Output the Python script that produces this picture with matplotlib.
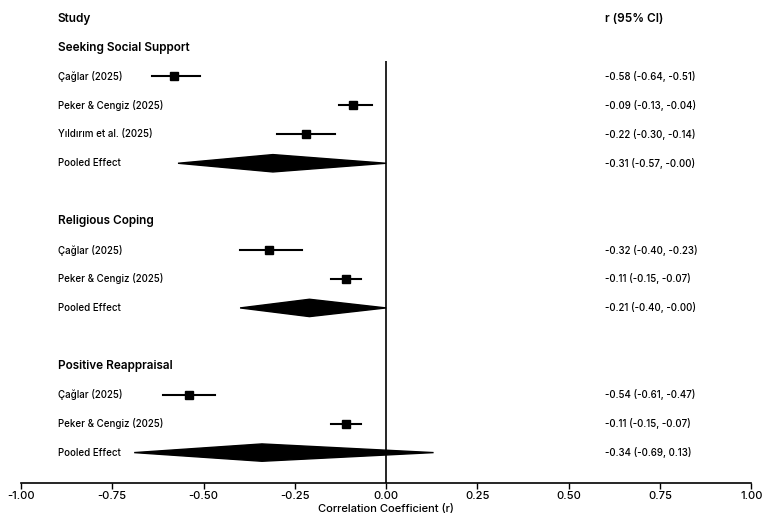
import matplotlib.pyplot as plt
from matplotlib.patches import Polygon

plt.rcParams['font.family'] = ['Inter', 'DejaVu Sans']

groups = ['Seeking Social Support', 'Religious Coping', 'Positive Reappraisal']
studies = [
    ['Çağlar (2025)', 'Peker & Cengiz (2025)', 'Yıldırım et al. (2025)'],
    ['Çağlar (2025)', 'Peker & Cengiz (2025)'],
    ['Çağlar (2025)', 'Peker & Cengiz (2025)'],
]
r_values = [[-0.58, -0.09, -0.22], [-0.32, -0.11], [-0.54, -0.11]]
ci_low = [[-0.64, -0.13, -0.30], [-0.40, -0.15], [-0.61, -0.15]]
ci_high = [[-0.51, -0.04, -0.14], [-0.23, -0.07], [-0.47, -0.07]]
pooled_r = [-0.31, -0.21, -0.34]
pooled_low = [-0.57, -0.40, -0.69]
pooled_high = [-0.00, -0.00, 0.13]

fig = plt.figure(figsize=(7.67, 5.16), dpi=100)
ax = fig.add_axes([0.0274, 0.064, 0.952, 0.928])

label_x = -0.90
value_x = 0.60
fs = 7

# rows from top to bottom
y = 16
ax.text(label_x, y, 'Study', fontsize=8.5, fontweight='semibold', va='center')
ax.text(value_x, y, 'r (95% CI)', fontsize=8.5, fontweight='semibold', va='center')
y -= 1
for g in range(len(groups)):
    ax.text(label_x, y, groups[g], fontsize=8.5, fontweight='semibold', va='center')
    y -= 1
    for s in range(len(studies[g])):
        ax.plot([ci_low[g][s], ci_high[g][s]], [y, y], color='black', lw=1.5)
        ax.plot(r_values[g][s], y, marker='s', color='black', ms=6)
        ax.text(label_x, y, studies[g][s], fontsize=fs, fontweight='medium', va='center')
        ax.text(value_x, y, f'{r_values[g][s]:.2f} ({ci_low[g][s]:.2f}, {ci_high[g][s]:.2f})',
                fontsize=fs, fontweight='medium', va='center')
        y -= 1
    diamond = Polygon([(pooled_low[g], y), (pooled_r[g], y + 0.3),
                       (pooled_high[g], y), (pooled_r[g], y - 0.3)],
                      closed=True, facecolor='black', edgecolor='black')
    ax.add_patch(diamond)
    ax.text(label_x, y, 'Pooled Effect', fontsize=fs, fontweight='medium', va='center')
    ax.text(value_x, y, f'{pooled_r[g]:.2f} ({pooled_low[g]:.2f}, {pooled_high[g]:.2f})',
            fontsize=fs, fontweight='medium', va='center')
    y -= 2

ax.vlines(0, -0.05, 14.55, color='black', lw=1.2)

ax.set_xlim(-1, 1)
ax.set_ylim(-0.05, 16.5)
ax.set_xticks([-1, -0.75, -0.5, -0.25, 0, 0.25, 0.5, 0.75, 1])
ax.set_xticklabels([f'{v:.2f}' for v in ax.get_xticks()], fontsize=8, fontweight='medium')
ax.set_yticks([])
ax.set_xlabel('Correlation Coefficient (r)', fontsize=8, fontweight='medium', labelpad=2)
for side in ['left', 'right', 'top']:
    ax.spines[side].set_visible(False)
ax.spines['bottom'].set_linewidth(1.2)
ax.tick_params(axis='x', length=4, width=1, pad=2)

fig.savefig('out.png', dpi=100)
